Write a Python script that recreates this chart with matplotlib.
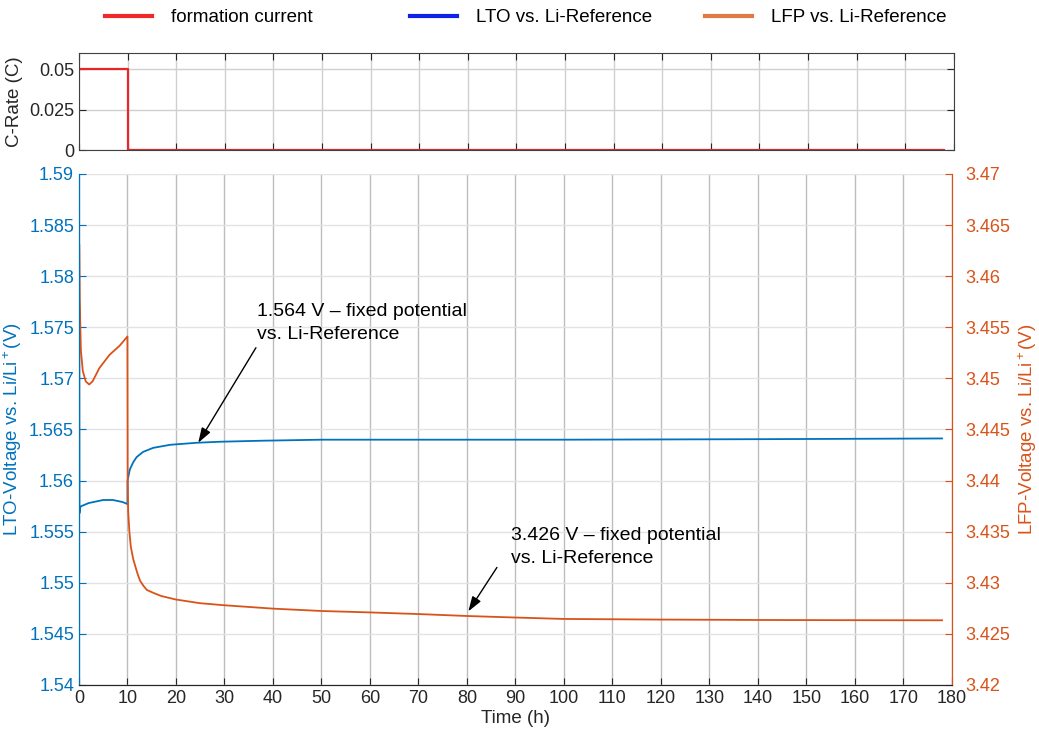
import matplotlib
matplotlib.use('Agg')
import matplotlib.pyplot as plt
from matplotlib.lines import Line2D

plt.rcParams['font.family'] = ['Liberation Sans', 'DejaVu Sans']
plt.rcParams['mathtext.fontset'] = 'custom'
plt.rcParams['mathtext.rm'] = 'Liberation Sans'
plt.rcParams['mathtext.it'] = 'Liberation Sans'

# formation current (C-rate)
t_cur = [0, 10, 10, 178]
c_rate = [0.05, 0.05, 0, 0]

# LTO vs. Li reference (V)
t_lto = [0, 0.1, 0.25, 0.5, 1, 2, 3, 4, 5, 6, 7, 8, 9, 9.5, 10.0,
         10.02, 10.5, 11.2, 11.9, 13.2, 15.3, 18.8, 24.3, 29.1, 37.8, 50, 70, 100, 140, 178]
v_lto = [1.5950, 1.5568, 1.5574, 1.5575, 1.5576, 1.5578, 1.5579, 1.5580, 1.5581, 1.5581,
         1.5581, 1.5580, 1.5579, 1.5578, 1.5577,
         1.5600, 1.5611, 1.5618, 1.5623, 1.5628, 1.5632, 1.5635, 1.5637, 1.5638,
         1.5639, 1.5640, 1.5640, 1.5640, 1.56405, 1.56412]

# LFP vs. Li reference (V)
t_lfp = [0, 0.05, 0.14, 0.4, 0.8, 1.4, 2.1, 2.8, 4.2, 6.3, 8.4, 10.0,
         10.05, 10.15, 10.4, 10.7, 11.2, 12, 12.6, 13.3, 14, 15.4, 17, 20, 25, 30, 40,
         50, 60, 70, 80, 90, 100, 120, 140, 160, 178]
v_lfp = [3.4150, 3.4631, 3.4580, 3.4527, 3.4507, 3.4497, 3.4494, 3.4497, 3.4510, 3.4523,
         3.4532, 3.4541,
         3.4400, 3.4370, 3.4350, 3.4335, 3.4323, 3.4310, 3.4302, 3.4297, 3.4293, 3.4290,
         3.4287, 3.42836, 3.4280, 3.4278, 3.42747, 3.42724, 3.4271, 3.42694, 3.42675,
         3.4266, 3.42646, 3.4264, 3.42636, 3.42634, 3.42633]

x_ticks = list(range(0, 190, 10))
lto_ticks = [1.54, 1.545, 1.55, 1.555, 1.56, 1.565, 1.57, 1.575, 1.58, 1.585, 1.59]
lfp_ticks = [3.42, 3.425, 3.43, 3.435, 3.44, 3.445, 3.45, 3.455, 3.46, 3.465, 3.47]
cur_ticks = [0, 0.025, 0.05]
cur_labels = ['0', '0.025', '0.05']

BLUE = '#0072BD'
ORANGE = '#D95319'
RED = '#e8262a'
DARK = '#262626'
FS = 13

fig = plt.figure(figsize=(10.39, 7.39), dpi=100)
ax_c = fig.add_axes([0.076, 0.797, 0.842, 0.1313])
ax = fig.add_axes([0.076, 0.0731, 0.840, 0.6915])
ax2 = ax.twinx()

# top panel
ax_c.plot(t_cur, c_rate, color=RED, lw=1.6)
ax_c.set_xlim(0, 180)
ax_c.set_ylim(0, 0.06)
ax_c.set_xticks(x_ticks)
ax_c.set_xticklabels([])
ax_c.set_yticks(cur_ticks)
ax_c.set_yticklabels(cur_labels)
ax_c.tick_params(direction='in', top=True, right=True, labelsize=FS,
                 colors=DARK, length=5)
ax_c.grid(True, color='#d0d0d0', lw=1)
for s in ax_c.spines.values():
    s.set_color('#404040')
ax_c.set_ylabel('C-Rate (C)', fontsize=FS + 0.5, color=DARK, labelpad=4)

# main panel
ax.plot(t_lto, v_lto, color=BLUE, lw=1.3)
ax2.plot(t_lfp, v_lfp, color=ORANGE, lw=1.3)
ax.set_xlim(0, 180)
ax.set_ylim(1.54, 1.59)
ax2.set_ylim(3.42, 3.47)
ax.set_xticks(x_ticks)
ax.set_yticks(lto_ticks)
ax.set_yticklabels([f'{v:g}' for v in lto_ticks])
ax2.set_yticks(lfp_ticks)
ax2.set_yticklabels([f'{v:g}' for v in lfp_ticks])

ax.xaxis.grid(True, color='#bdbdbd', lw=1)
ax.yaxis.grid(True, color='#e2e2ea', lw=1)
ax.set_axisbelow(True)

ax.tick_params(axis='x', direction='in', labelsize=FS, colors=DARK, length=5)
ax.tick_params(axis='y', direction='in', labelsize=FS, colors=BLUE, length=5)
ax2.tick_params(axis='y', direction='in', labelsize=FS, colors=ORANGE, length=5, pad=10)
for a in (ax, ax2):
    a.spines['top'].set_visible(False)
    a.spines['left'].set_color(BLUE)
    a.spines['right'].set_color(ORANGE)
    a.spines['bottom'].set_color(DARK)

ax.set_xlabel('Time (h)', fontsize=FS + 0.5, color=DARK, labelpad=2)
ax.set_ylabel('LTO-Voltage vs. Li/Li$^+$(V)', fontsize=FS + 0.5, color=BLUE, labelpad=4)
ax2.set_ylabel('LFP-Voltage vs. Li/Li$^+$(V)', fontsize=FS + 0.5, color=ORANGE, labelpad=4)

arrow = dict(arrowstyle='-|>,head_length=0.9,head_width=0.3', color='k', lw=1,
             shrinkA=0, shrinkB=0)
ax.annotate('', xy=(24.6, 1.5637), xytext=(36.5, 1.5730), arrowprops=arrow)
ax.text(36.8, 1.5774, '1.564 V \u2013 fixed potential\nvs. Li-Reference',
        fontsize=14, va='top', ha='left', color='k', linespacing=1.5)
ax2.annotate('', xy=(80.3, 3.4272), xytext=(86.2, 3.4315), arrowprops=arrow)
ax2.text(89.2, 3.4355, '3.426 V \u2013 fixed potential\nvs. Li-Reference',
         fontsize=14, va='top', ha='left', color='k', linespacing=1.5)

# legend across the top
legend_items = [('formation current', '#f0282a', 0.101),
                ('LTO vs. Li-Reference', '#1020e8', 0.395),
                ('LFP vs. Li-Reference', '#e07a45', 0.679)]
for label, col, xpos in legend_items:
    fig.legend(handles=[Line2D([], [], color=col, lw=3)], labels=[label],
               loc='center left', bbox_to_anchor=(xpos, 0.976), frameon=False,
               fontsize=13.5, handlelength=2.5, handletextpad=1.0,
               borderpad=0, borderaxespad=0)

fig.savefig('out.png', dpi=100)
